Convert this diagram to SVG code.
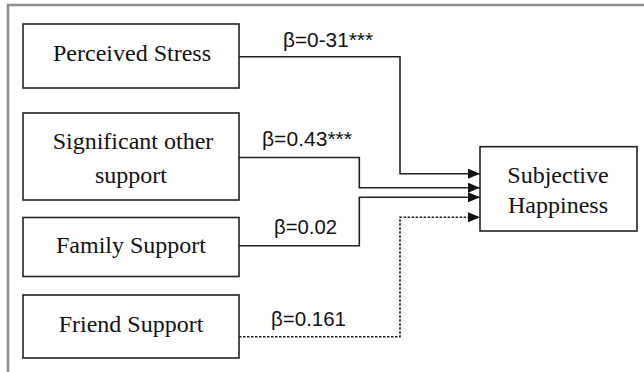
<svg xmlns="http://www.w3.org/2000/svg" width="644" height="372" viewBox="0 0 644 372">
<defs>
<style>
.frame{fill:none;stroke:#8e8e8e;stroke-width:2.5}
.box{fill:#fff;stroke:#222;stroke-width:1.6}
.t{font-family:"Liberation Serif","Times New Roman",serif;font-size:24px;fill:#111;text-anchor:middle}
.lbl{font-family:"Liberation Sans",Arial,sans-serif;font-size:21px;fill:#111}
.ln{fill:none;stroke:#222;stroke-width:1.6}
.dash{fill:none;stroke:#222;stroke-width:1.6;stroke-dasharray:2.5 1.5}
</style>
<marker id="ah" viewBox="0 0 12 10" refX="12" refY="5" markerWidth="12" markerHeight="10" markerUnits="userSpaceOnUse" orient="auto">
<path d="M0,0 L12,5 L0,10 Z" fill="#111"/>
</marker>
</defs>
<rect width="644" height="372" fill="#fff"/>
<rect class="frame" x="8" y="5" width="660" height="400"/>
<g id="connectors">
<polyline class="ln" points="239,56.7 400,56.7 400,173.7 480,173.7" marker-end="url(#ah)"/>
<polyline class="ln" points="239,157.5 359.3,157.5 359.3,187.7 480,187.7" marker-end="url(#ah)"/>
<polyline class="ln" points="239,245.7 359.3,245.7 359.3,197.3 480,197.3" marker-end="url(#ah)"/>
<polyline class="dash" points="239,336.7 400,336.7 400,217.3 480,217.3" marker-end="url(#ah)"/>
<text class="lbl" x="283" y="46.7" textLength="90" lengthAdjust="spacingAndGlyphs">β=0-31***</text>
<text class="lbl" x="262" y="145.5" textLength="90" lengthAdjust="spacingAndGlyphs">β=0.43***</text>
<text class="lbl" x="274" y="234" textLength="63" lengthAdjust="spacingAndGlyphs">β=0.02</text>
<text class="lbl" x="271" y="326" textLength="75" lengthAdjust="spacingAndGlyphs">β=0.161</text>
</g>
<g id="perceived-stress">
<rect class="box" x="23" y="24" width="216" height="64"/>
<text class="t" x="132" y="61">Perceived Stress</text>
</g>
<g id="significant-other-support">
<rect class="box" x="23" y="113" width="216" height="87"/>
<text class="t" x="133" y="149.3">Significant other</text>
<text class="t" x="131" y="183.3">support</text>
</g>
<g id="family-support">
<rect class="box" x="23" y="217.5" width="216" height="59"/>
<text class="t" x="131" y="252.5">Family Support</text>
</g>
<g id="friend-support">
<rect class="box" x="23" y="295" width="216" height="63"/>
<text class="t" x="131" y="332">Friend Support</text>
</g>
<g id="subjective-happiness">
<rect class="box" x="480" y="146.7" width="157" height="84.3"/>
<text class="t" x="558" y="183.3">Subjective</text>
<text class="t" x="558" y="213.3">Happiness</text>
</g>
</svg>
